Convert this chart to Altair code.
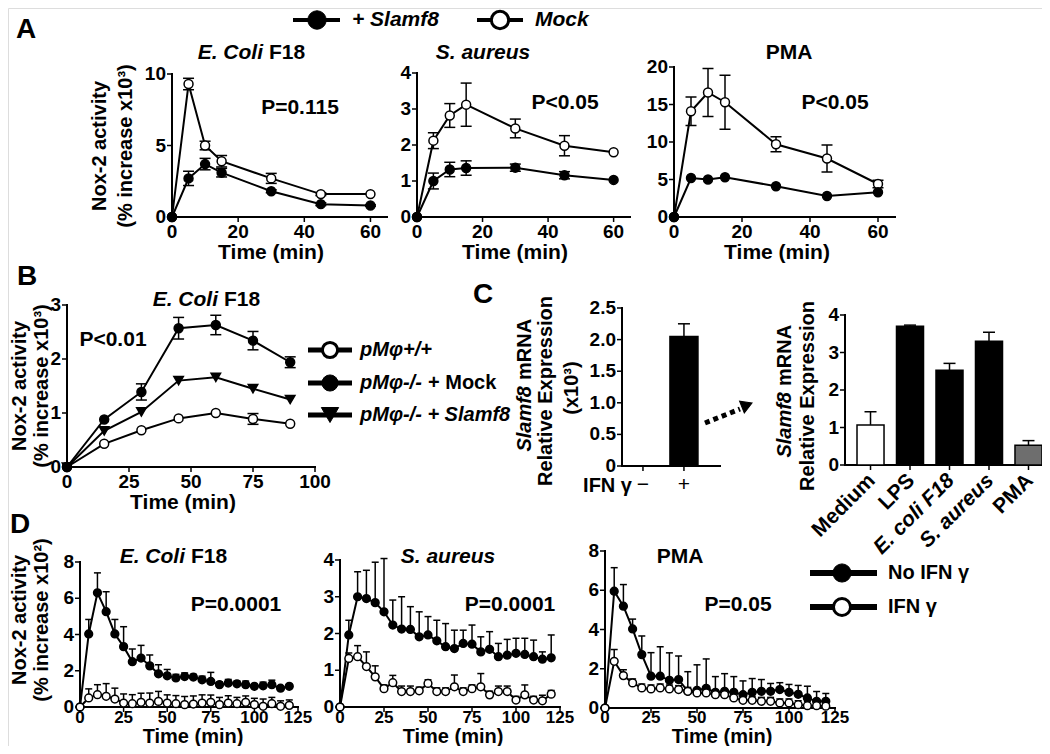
import altair as alt
import pandas as pd

# ---------------- data ----------------
A_TIME = [0, 5, 10, 15, 30, 45, 60]
A1_MOCK = [0, 9.3, 5.0, 3.9, 2.7, 1.6, 1.6]
A1_MOCK_ERR = [0, 0.4, 0.3, 0.4, 0.35, 0.1, 0]
A1_SLAMF8 = [0, 2.7, 3.7, 3.1, 1.8, 0.9, 0.8]
A1_SLAMF8_ERR = [0, 0.5, 0.4, 0.3, 0.1, 0.1, 0.05]
A2_MOCK = [0, 2.12, 2.82, 3.12, 2.46, 1.98, 1.8]
A2_MOCK_ERR = [0, 0.22, 0.33, 0.6, 0.26, 0.28, 0]
A2_SLAMF8 = [0, 1.0, 1.32, 1.36, 1.37, 1.16, 1.03]
A2_SLAMF8_ERR = [0, 0.22, 0.2, 0.2, 0.1, 0.1, 0]
A3_MOCK = [0, 14.1, 16.6, 15.3, 9.7, 7.8, 4.4]
A3_MOCK_ERR = [0, 1.9, 3.2, 3.6, 1.0, 1.8, 0.5]
A3_SLAMF8 = [0, 5.2, 5.0, 5.3, 4.1, 2.8, 3.3]
A3_SLAMF8_ERR = [0, 0, 0, 0, 0, 0, 0]

B_TIME = [0, 15, 30, 45, 60, 75, 90]
B_WT = [0, 0.43, 0.68, 0.9, 1.0, 0.89, 0.8]
B_WT_ERR = [0, 0, 0, 0, 0, 0.1, 0]
B_KO_MOCK = [0, 0.88, 1.39, 2.57, 2.63, 2.34, 1.94]
B_KO_MOCK_ERR = [0, 0, 0.15, 0.2, 0.18, 0.17, 0.1]
B_KO_SLAMF8 = [0, 0.67, 1.02, 1.6, 1.66, 1.45, 1.25]
B_KO_SLAMF8_ERR = [0, 0, 0, 0, 0, 0, 0]

C1_CATS = ["\u2212", "+"]
C1_VALS = [0, 2.05]
C1_ERR = [0, 0.2]
C2_CATS = ["Medium", "LPS", "E. coli F18", "S. aureus", "PMA"]
C2_VALS = [1.07, 3.7, 2.53, 3.3, 0.53]
C2_ERR = [0.35, 0.03, 0.18, 0.24, 0.12]
C2_FILLS = ["white", "black", "black", "black", "#6e6e6e"]

D_TIME = [0, 5, 10, 15, 20, 25, 30, 35, 40, 45, 50, 55, 60, 65, 70, 75, 80,
          85, 90, 95, 100, 105, 110, 115, 120]
D1_NO = [0, 4.03, 6.3, 5.26, 4.03, 3.33, 2.5, 2.7, 2.27, 1.83, 1.72, 1.6, 1.68,
         1.65, 1.5, 1.41, 1.23, 1.32, 1.28, 1.23, 1.14, 1.17, 1.23, 1.04, 1.14]
D1_NO_ERR = [0, 0.8, 1.1, 1.1, 0.8, 1.1, 0.7, 0.7, 0.6, 0.5, 0.35, 0.2, 0.2,
             0.15, 0.2, 0.5, 0.15, 0.2, 0.15, 0.2, 0.1, 0.2, 0.25, 0.1, 0.1]
D1_IFN = [0, 0.5, 0.68, 0.59, 0.44, 0.22, 0.18, 0.26, 0.22, 0.31, 0.22, 0.18,
          0.13, 0.16, 0.22, 0.26, 0.13, 0.22, 0.18, 0.26, 0.13, 0.04, 0.18, 0.04, 0.09]
D1_IFN_ERR = [0, 0.5, 0.55, 0.7, 0.6, 0.5, 0.5, 0.5, 0.55, 0.55, 0.45, 0.45,
              0.45, 0.45, 0.45, 0.4, 0.4, 0.4, 0.35, 0.35, 0.35, 0.4, 0.35, 0.3, 0.3]
D2_NO = [0, 1.96, 3.0, 2.95, 2.84, 2.59, 2.23, 2.12, 2.11, 1.91, 1.96, 1.8, 1.64,
         1.59, 1.73, 1.71, 1.5, 1.57, 1.37, 1.41, 1.46, 1.43, 1.37, 1.3, 1.34]
D2_NO_ERR = [0, 0.4, 0.68, 0.77, 1.1, 1.45, 0.68, 0.88, 0.62, 0.68, 0.5, 0.56,
             0.63, 0.5, 0.36, 0.52, 0.41, 0.48, 0.36, 0.43, 0.41, 0.44, 0.45, 0.2, 0.62]
D2_IFN = [0, 1.32, 1.37, 1.1, 0.82, 0.5, 0.66, 0.42, 0.42, 0.44, 0.64, 0.42, 0.42,
          0.55, 0.42, 0.5, 0.55, 0.33, 0.42, 0.42, 0.19, 0.33, 0.19, 0.17, 0.35]
D2_IFN_ERR = [0, 0.15, 0.3, 0.4, 0.3, 0.1, 0.2, 0.15, 0.15, 0.1, 0.1, 0.1, 0.1,
              0.32, 0.1, 0.1, 0.36, 0.1, 0.15, 0.15, 0.1, 0.27, 0.1, 0.15, 0.1]
D3_NO = [0, 5.95, 5.19, 4.03, 2.72, 1.62, 1.62, 1.41, 1.45, 0.85, 0.9, 1.0, 0.8,
         0.85, 0.8, 0.68, 0.8, 0.85, 0.85, 0.94, 0.8, 0.7, 0.51, 0.34, 0.34]
D3_NO_ERR = [0, 1.2, 1.1, 0.5, 0.95, 1.2, 1.5, 1.4, 1.2, 1.0, 1.3, 1.5, 0.8, 0.9,
             0.8, 0.7, 0.7, 0.6, 0.4, 0.35, 0.4, 0.45, 0.6, 0.5, 0.4]
D3_IFN = [0, 2.38, 1.65, 1.28, 1.02, 0.97, 1.02, 0.97, 0.94, 0.85, 0.77, 0.77, 0.68,
          0.68, 0.51, 0.39, 0.39, 0.34, 0.34, 0.26, 0.26, 0.17, 0.12, 0.12, 0.09]
D3_IFN_ERR = [0, 0.6, 0.3, 0.2, 0.2, 0.2, 0.2, 0.2, 0.2, 0.2, 0.2, 0.2, 0.2, 0.2,
              0.2, 0.2, 0.2, 0.2, 0.2, 0.2, 0.2, 0.2, 0.2, 0.2, 0.2]

A_XTICKS = [0, 20, 40, 60]
B_XTICKS = [0, 25, 50, 75, 100]
D_XTICKS = [0, 25, 50, 75, 100, 125]

# ---------------- layout helpers ----------------
W, H = 1034, 738
M = 8
FONT = "Liberation Sans"
LBL = 19


def lin_scales(xdom, xr, ydom, yr):
    xs = alt.Scale(domain=xdom, range=[xr[0] - M, xr[1] - M], nice=False, zero=False)
    ys = alt.Scale(domain=ydom, range=[yr[0] - M, yr[1] - M], nice=False, zero=False)
    return xs, ys


def fmt(v):
    if isinstance(v, str):
        return v
    if isinstance(v, float) and v != int(v):
        return f"{v:.1f}"
    return str(int(v))


def axis_layers(xs, ys, xdom, ydom, xticks, yticks, x0, y0, xband=None,
                ylabels=None, xlabel_dy=15, xlabel_weight="bold", xlabel_size=LBL):
    xa, ya = x0 - M, y0 - M
    L = []
    if xband is None:
        dom = pd.DataFrame({"a": [xdom[0]], "b": [xdom[1]]})
        L.append(alt.Chart(dom).mark_rule(color="black", strokeWidth=2, strokeCap="square").encode(
            x=alt.X("a:Q", scale=xs, axis=None), x2="b:Q", y=alt.value(ya)))
    else:
        dom = pd.DataFrame({"a": [0]})
        L.append(alt.Chart(dom).mark_rule(color="black", strokeWidth=2, strokeCap="square").encode(
            x=alt.value(xband[0] - M), x2=alt.value(xband[1] - M), y=alt.value(ya)))
    ydf = pd.DataFrame({"c": [ydom[0]], "d": [ydom[1]]})
    L.append(alt.Chart(ydf).mark_rule(color="black", strokeWidth=2, strokeCap="square").encode(
        y=alt.Y("c:Q", scale=ys, axis=None), y2="d:Q", x=alt.value(xa)))
    if len(xticks):
        xt = pd.DataFrame({"t": xticks, "lab": [fmt(v) for v in xticks]})
        xtype = "t:N" if xband is not None else "t:Q"
        L.append(alt.Chart(xt).mark_rule(color="black", strokeWidth=1.5).encode(
            x=alt.X(xtype, scale=xs, axis=None), y=alt.value(ya), y2=alt.value(ya + 5)))
        L.append(alt.Chart(xt).mark_text(
            font=FONT, fontWeight=xlabel_weight, fontSize=xlabel_size, align="center",
            baseline="middle", color="black").encode(
            x=alt.X(xtype, scale=xs, axis=None), y=alt.value(ya + xlabel_dy),
            text="lab:N"))
    yl = ylabels if ylabels is not None else [fmt(v) for v in yticks]
    yt = pd.DataFrame({"v": yticks, "lab": yl})
    L.append(alt.Chart(yt).mark_rule(color="black", strokeWidth=1.5).encode(
        y=alt.Y("v:Q", scale=ys, axis=None), x=alt.value(xa), x2=alt.value(xa - 5)))
    L.append(alt.Chart(yt).mark_text(
        font=FONT, fontWeight="bold", fontSize=LBL, align="right", baseline="middle",
        color="black").encode(
        y=alt.Y("v:Q", scale=ys, axis=None), x=alt.value(xa - 6), text="lab:N"))
    return L


def line_panel(times, series, xs, ys, axes, cap, both=True, lw=2):
    layers = list(axes)
    for s in series:
        df = pd.DataFrame({"t": times, "v": s["vals"], "e": s["errs"]})
        df["hi"] = df["v"] + df["e"]
        df["lo"] = df["v"] - df["e"] if both else df["v"]
        base = alt.Chart(df)
        ed = base.transform_filter("datum.e > 0")
        X = alt.X("t:Q", scale=xs, axis=None)
        layers.append(ed.mark_rule(color="black", strokeWidth=1.5).encode(
            x=X, y=alt.Y("lo:Q", scale=ys, axis=None), y2="hi:Q"))
        layers.append(ed.mark_tick(orient="horizontal", color="black", size=cap,
                                   thickness=1.5, opacity=1).encode(
            x=X, y=alt.Y("hi:Q", scale=ys, axis=None)))
        if both:
            layers.append(ed.mark_tick(orient="horizontal", color="black", size=cap,
                                       thickness=1.5, opacity=1).encode(
                x=X, y=alt.Y("lo:Q", scale=ys, axis=None)))
        layers.append(base.mark_line(color="black", strokeWidth=lw).encode(
            x=X, y=alt.Y("v:Q", scale=ys, axis=None)))
        layers.append(base.mark_point(shape=s["shape"], filled=True, fill=s["fill"],
                                      stroke="black", strokeWidth=1.5, size=s["size"],
                                      opacity=1).encode(
            x=X, y=alt.Y("v:Q", scale=ys, axis=None)))
    return alt.layer(*layers)


def bar_panel(cats, vals, errs, fills, xs, ys, axes, cap):
    df = pd.DataFrame({"c": cats, "v": vals, "e": errs, "f": fills})
    df["hi"] = df["v"] + df["e"]
    base = alt.Chart(df)
    bars = base.transform_filter("datum.v > 0").mark_bar(stroke="black", strokeWidth=1.5).encode(
        x=alt.X("c:N", scale=xs, axis=None),
        y=alt.Y("v:Q", scale=ys, axis=None),
        fill=alt.Fill("f:N", scale=None))
    ed = base.transform_filter("datum.e > 0")
    rule = ed.mark_rule(color="black", strokeWidth=1.5).encode(
        x=alt.X("c:N", scale=xs, axis=None), y=alt.Y("v:Q", scale=ys, axis=None), y2="hi:Q")
    tk = ed.mark_tick(orient="horizontal", color="black", size=cap, thickness=1.5,
                      opacity=1).encode(
        x=alt.X("c:N", scale=xs, axis=None), y=alt.Y("hi:Q", scale=ys, axis=None))
    return alt.layer(*axes, bars, rule, tk)


def text_layer(rows, style="normal", align="center", weight="bold"):
    df = pd.DataFrame(rows, columns=["text", "x", "y", "size", "angle"])
    df["x"] = df["x"] - M
    df["y"] = df["y"] - M
    return alt.Chart(df).mark_text(font=FONT, fontWeight=weight, fontStyle=style,
                                   align=align, baseline="middle", color="black").encode(
        x=alt.X("x:Q", scale=None, axis=None), y=alt.Y("y:Q", scale=None, axis=None),
        text="text:N", size=alt.Size("size:Q", scale=None, legend=None),
        angle=alt.Angle("angle:Q", scale=None))


def rule_layer(rows, dash=None):
    df = pd.DataFrame(rows, columns=["x1", "y1", "x2", "y2", "w"])
    for c in ["x1", "x2", "y1", "y2"]:
        df[c] = df[c] - M
    mk = dict(color="black")
    if dash:
        mk["strokeDash"] = dash
    return alt.Chart(df).mark_rule(**mk).encode(
        x=alt.X("x1:Q", scale=None, axis=None), x2="x2:Q",
        y=alt.Y("y1:Q", scale=None, axis=None), y2="y2:Q",
        strokeWidth=alt.StrokeWidth("w:Q", scale=None, legend=None))


def sym_layer(rows):
    df = pd.DataFrame(rows, columns=["x", "y", "shape", "fill", "size", "sw", "angle"])
    df["x"] = df["x"] - M
    df["y"] = df["y"] - M
    return alt.Chart(df).mark_point(filled=True, stroke="black", opacity=1).encode(
        x=alt.X("x:Q", scale=None, axis=None), y=alt.Y("y:Q", scale=None, axis=None),
        shape=alt.Shape("shape:N", scale=None, legend=None),
        fill=alt.Fill("fill:N", scale=None, legend=None),
        size=alt.Size("size:Q", scale=None, legend=None),
        strokeWidth=alt.StrokeWidth("sw:Q", scale=None, legend=None),
        angle=alt.Angle("angle:Q", scale=None))


def ser(vals, errs, shape, fill, size):
    return dict(vals=vals, errs=errs, shape=shape, fill=fill, size=size)


layers = []

# ---------------- panel A ----------------
for (x0, x1, ytop, ymax, yticks, mock, mock_e, sl, sl_e) in [
    (172, 387, 74, 10, [0, 5, 10], A1_MOCK, A1_MOCK_ERR, A1_SLAMF8, A1_SLAMF8_ERR),
    (417, 630, 73, 4, [0, 1, 2, 3, 4], A2_MOCK, A2_MOCK_ERR, A2_SLAMF8, A2_SLAMF8_ERR),
    (674, 895, 67, 20, [0, 5, 10, 15, 20], A3_MOCK, A3_MOCK_ERR, A3_SLAMF8, A3_SLAMF8_ERR),
]:
    xs, ys = lin_scales([0, 65], [x0, x1], [0, ymax], [217, ytop])
    ax = axis_layers(xs, ys, [0, 65], [0, ymax], A_XTICKS, yticks, x0, 217)
    layers.append(line_panel(A_TIME, [ser(mock, mock_e, "circle", "white", 80),
                                      ser(sl, sl_e, "circle", "black", 80)],
                             xs, ys, ax, 11))

# ---------------- panel B ----------------
xs, ys = lin_scales([0, 100], [67, 315], [0, 3], [467, 305])
ax = axis_layers(xs, ys, [0, 100], [0, 3], B_XTICKS, [0, 1, 2, 3], 67, 467)
layers.append(line_panel(B_TIME, [ser(B_WT, B_WT_ERR, "circle", "white", 80),
                                  ser(B_KO_SLAMF8, B_KO_SLAMF8_ERR, "triangle-down", "black", 90),
                                  ser(B_KO_MOCK, B_KO_MOCK_ERR, "circle", "black", 80)],
                         xs, ys, ax, 11))

# ---------------- panel C ----------------
xs = alt.Scale(domain=C1_CATS, range=[622 - M, 720 - M], paddingInner=0.317,
               paddingOuter=0.354, align=0.24)
ys = alt.Scale(domain=[0, 2.5], range=[466 - M, 308 - M], nice=False, zero=False)
ax = axis_layers(xs, ys, None, [0, 2.5], C1_CATS, [0, 0.5, 1.0, 1.5, 2.0, 2.5], 622, 466,
                 xband=(622, 720), ylabels=["0", "0.5", "1.0", "1.5", "2.0", "2.5"],
                 xlabel_dy=19, xlabel_weight="normal", xlabel_size=21)
layers.append(bar_panel(C1_CATS, C1_VALS, C1_ERR, ["black", "black"], xs, ys, ax, 12))

xs = alt.Scale(domain=C2_CATS, range=[845 - M, 1045 - M], paddingInner=0.316,
               paddingOuter=0.19, align=0.8)
ys = alt.Scale(domain=[0, 4], range=[465 - M, 315 - M], nice=False, zero=False)
ax = axis_layers(xs, ys, None, [0, 4], [], [0, 1, 2, 3, 4], 845, 465, xband=(845, 1045))
c2t = pd.DataFrame({"t": C2_CATS})
ax.append(alt.Chart(c2t).mark_rule(color="black", strokeWidth=1.5).encode(
    x=alt.X("t:N", scale=xs, axis=None), y=alt.value(465 - M), y2=alt.value(470 - M)))
for cats, style in [(["Medium", "LPS", "PMA"], "normal"), (["E. coli F18", "S. aureus"], "italic")]:
    ax.append(alt.Chart(pd.DataFrame({"t": cats})).mark_text(
        font=FONT, fontWeight="bold", fontStyle=style, fontSize=21, align="right",
        baseline="middle", angle=315, color="black", dx=2).encode(
        x=alt.X("t:N", scale=xs, axis=None), y=alt.value(479 - M), text="t:N"))
layers.append(bar_panel(C2_CATS, C2_VALS, C2_ERR, C2_FILLS, xs, ys, ax, 12))

# ---------------- panel D ----------------
for (x0, x1, ytop, ymax, yticks, y0, no, no_e, ifn, ifn_e) in [
    (80, 298, 562, 8, [0, 2, 4, 6, 8], 707, D1_NO, D1_NO_ERR, D1_IFN, D1_IFN_ERR),
    (340, 560, 560, 4, [0, 1, 2, 3, 4], 707, D2_NO, D2_NO_ERR, D2_IFN, D2_IFN_ERR),
    (605, 835, 551, 8, [0, 2, 4, 6, 8], 708, D3_NO, D3_NO_ERR, D3_IFN, D3_IFN_ERR),
]:
    xs, ys = lin_scales([0, 125], [x0, x1], [0, ymax], [y0, ytop])
    ax = axis_layers(xs, ys, [0, 125], [0, ymax], D_XTICKS, yticks, x0, y0,
                     xlabel_dy=718 - y0, xlabel_size=17)
    layers.append(line_panel(D_TIME, [ser(no, no_e, "circle", "black", 60),
                                      ser(ifn, ifn_e, "circle", "white", 60)],
                             xs, ys, ax, 7, both=False))

# ---------------- annotations ----------------
layers.append(text_layer([
    ["A", 26, 30, 28, 0], ["B", 27, 277, 28, 0], ["C", 483, 295, 28, 0], ["D", 20, 525, 28, 0],
    ["P=0.115", 300, 108, 21, 0], ["P<0.05", 565, 103, 21, 0], ["P<0.05", 835, 103, 21, 0],
    ["PMA", 789, 53, 21, 0], ["P<0.01", 113, 340, 21, 0],
    ["P=0.0001", 236, 605, 21, 0], ["P=0.0001", 510, 605, 21, 0], ["P=0.05", 738, 605, 21, 0],
    ["PMA", 680, 557, 21, 0],
    ["Time (min)", 271, 253, 21, 0], ["Time (min)", 515, 253, 21, 0],
    ["Time (min)", 777, 253, 21, 0], ["Time (min)", 183, 503, 21, 0],
    ["Time (min)", 193, 737, 20, 0], ["Time (min)", 453, 737, 20, 0],
    ["Time (min)", 722, 737, 20, 0],
    ["Nox-2 activity", 100, 146, 20, 270], ["(% increase x10\u00b3)", 126, 146, 20, 270],
    ["Nox-2 activity", 20, 386, 20, 270], ["(% increase x10\u00b3)", 42, 386, 20, 270],
    ["Nox-2 activity", 20, 620, 20, 270], ["(% increase x10\u00b2)", 42, 620, 20, 270],
    ["Relative Expression", 546, 391, 20, 270], ["(x10\u00b3)", 572, 388, 20, 270],
    ["Relative Expression", 808, 396, 20, 270],
]))
layers.append(text_layer([["S. aureus", 483, 53, 21, 0], ["S. aureus", 448, 557, 21, 0]],
                         style="italic"))
layers.append(text_layer([["E. Coli", 263, 53, 21, 0], ["E. Coli", 218, 300, 21, 0],
                          ["E. Coli", 185, 557, 21, 0]], style="italic", align="right"))
layers.append(text_layer([["F18", 269, 53, 21, 0], ["F18", 224, 300, 21, 0],
                          ["F18", 191, 557, 21, 0]], align="left"))
# C y-titles, first line: italic "Slamf8" + " mRNA"
layers.append(text_layer([["Slamf8", 525, 386, 20, 270], ["Slamf8", 785, 392, 20, 270]],
                         style="italic", align="right"))
layers.append(text_layer([["mRNA", 525, 380, 20, 270], ["mRNA", 785, 386, 20, 270]],
                         align="left"))
layers.append(text_layer([["IFN \u03b3", 632, 486, 20, 0]], align="right"))

# legends text
TOPY = 20
layers.append(text_layer([["+ Mock", 428, 383, 20, 0],
                          ["No IFN \u03b3", 888, 573, 20, 0], ["IFN \u03b3", 888, 607, 20, 0]],
                         align="left"))
layers.append(text_layer([["+ Slamf8", 352, TOPY, 21, 0], ["Mock", 535, TOPY, 21, 0],
                          ["pM\u03c6+/+", 360, 350, 20, 0],
                          ["pM\u03c6-/-", 360, 383, 20, 0],
                          ["pM\u03c6-/- + Slamf8", 360, 415, 20, 0]],
                         style="italic", align="left"))
# legend lines
layers.append(rule_layer([[293, TOPY, 340, TOPY, 4], [477, TOPY, 523, TOPY, 4],
                          [308, 350, 352, 350, 5], [308, 383, 352, 383, 5],
                          [308, 415, 352, 415, 5],
                          [810, 573, 877, 573, 6], [810, 607, 877, 607, 6]]))
# dotted arrow
layers.append(rule_layer([[705, 423, 740, 409, 5]], dash=[5, 4]))
layers.append(sym_layer([
    [317, TOPY, "circle", "black", 340, 1, 0], [500, TOPY, "circle", "white", 300, 3, 0],
    [330, 350, "circle", "white", 230, 3, 0], [330, 383, "circle", "black", 260, 1, 0],
    [330, 415, "triangle-down", "black", 300, 1, 0],
    [842, 573, "circle", "black", 330, 1, 0], [842, 607, "circle", "white", 290, 3, 0],
    [747, 405, "triangle-up", "black", 160, 1, 68],
]))

chart = alt.layer(*layers).resolve_scale(x="independent", y="independent").properties(
    width=W, height=H, padding=0, autosize=alt.AutoSizeParams(type="none")
).configure_view(strokeWidth=0).configure(background="white")

chart.save("out.html", embed_options={"renderer": "svg", "actions": False})
